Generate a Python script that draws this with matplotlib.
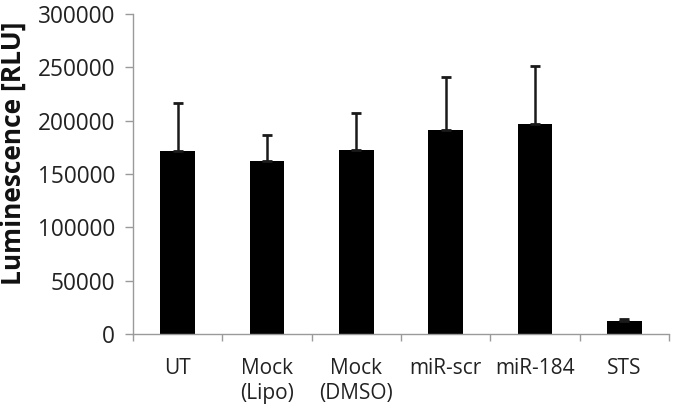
import matplotlib
matplotlib.use("Agg")
import matplotlib.pyplot as plt
import numpy as np
from matplotlib.ticker import FixedLocator

categories = ["UT", "Mock\n(Lipo)", "Mock\n(DMSO)", "miR-scr", "miR-184", "STS"]
means = [171500, 162500, 172500, 191500, 197000, 12000]
errors = [45000, 24000, 35000, 49000, 54000, 2000]
y_ticks = [0, 50000, 100000, 150000, 200000, 250000, 300000]

plt.rcParams["font.family"] = ["Open Sans", "DejaVu Sans"]

fig = plt.figure(figsize=(6.75, 4.11), dpi=100)
ax = fig.add_axes([0.197, 0.187, 0.794, 0.779])

x = np.arange(len(categories))
ax.bar(x, means, width=0.39, color="black", zorder=2)
ax.errorbar(x, means, yerr=[np.zeros(len(errors)), errors], fmt="none",
            ecolor="#1a1a1a", elinewidth=1.8, capsize=3.8, capthick=2, zorder=3)

ax.set_xlim(-0.5, len(categories) - 0.5)
ax.set_ylim(0, 300000)
ax.set_yticks(y_ticks)
ax.set_yticklabels([str(v) for v in y_ticks], fontsize=16.3, color="#222222")

ax.set_xticks(x)
ax.set_xticklabels(categories, fontsize=15, color="#222222", linespacing=1.25, va="top")
ax.tick_params(axis="x", which="major", length=0, pad=17)
ax.xaxis.set_minor_locator(FixedLocator(np.arange(-0.5, len(categories), 1.0)))
ax.tick_params(axis="x", which="minor", length=5, color="#9a9a9a", width=1)
ax.tick_params(axis="y", length=6, color="#9a9a9a", width=1, pad=7)

ax.set_ylabel("Luminescence [RLU]", fontsize=19, fontweight="bold", color="#111111")
ax.yaxis.set_label_coords(-0.198, 0.566)

for side in ["top", "right"]:
    ax.spines[side].set_visible(False)
for side in ["left", "bottom"]:
    ax.spines[side].set_color("#9a9a9a")
    ax.spines[side].set_linewidth(1)

fig.savefig("out.png", dpi=100)
